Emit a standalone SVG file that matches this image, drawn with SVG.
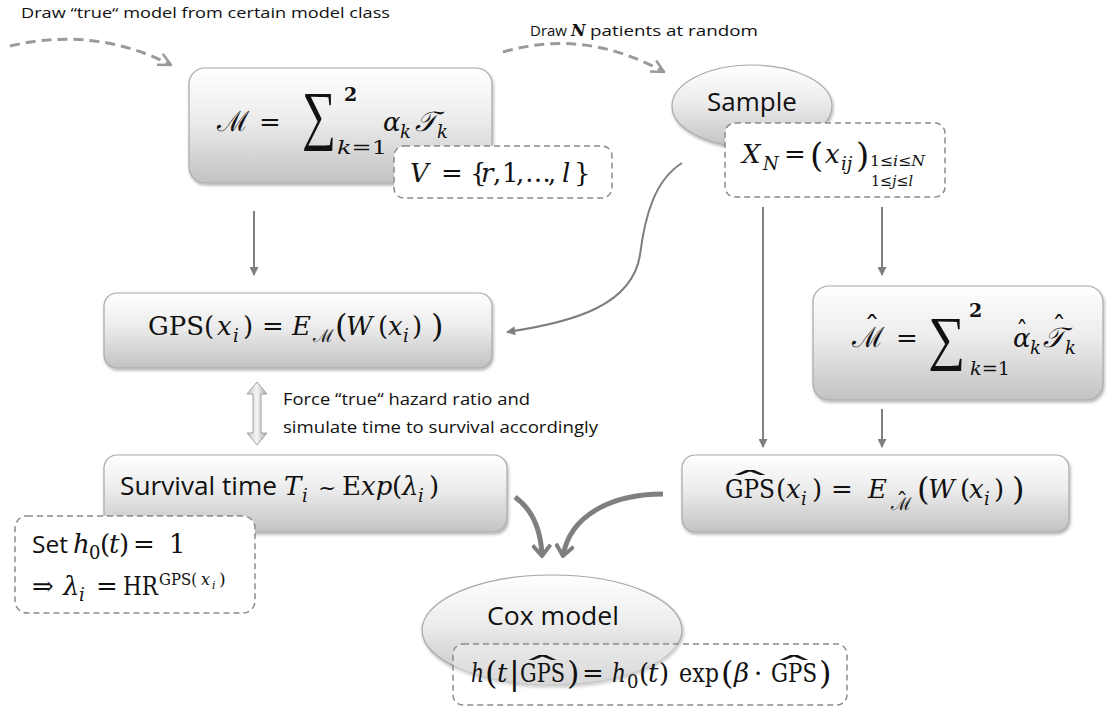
<svg xmlns="http://www.w3.org/2000/svg" width="1107" height="711" viewBox="0 0 1107 711">
<style>
.sans{font-family:"Open Sans","Liberation Sans",sans-serif;fill:#111}
.m{font-family:"DejaVu Serif","Liberation Serif",serif;fill:#111;font-size:26px}
.sig{font-family:"Liberation Serif","DejaVu Serif",serif;fill:#111}
.i{font-style:italic}
.s{font-size:18px}
.node{fill:url(#g);stroke:#a9a9a9;stroke-width:1.2;filter:url(#sh)}
.dash{fill:#fff;stroke:#8a8a8a;stroke-width:1.5;stroke-dasharray:6 4}
.conn{fill:none;stroke:#7f7f7f;stroke-width:2}
.arc{fill:none;stroke:#9a9a9a;stroke-width:3;stroke-dasharray:10 6}
.thick{fill:none;stroke:#7f7f7f;stroke-width:5}
</style>
<defs>
<linearGradient id="g" x1="0" y1="0" x2="0" y2="1">
<stop offset="0" stop-color="#ffffff"/>
<stop offset="0.45" stop-color="#ececec"/>
<stop offset="1" stop-color="#c2c2c2"/>
</linearGradient>
<linearGradient id="dg" x1="0" y1="0" x2="1" y2="0">
<stop offset="0" stop-color="#c8c8c8"/>
<stop offset="0.5" stop-color="#f4f4f4"/>
<stop offset="1" stop-color="#a8a8a8"/>
</linearGradient>
<filter id="sh" x="-5%" y="-5%" width="110%" height="120%">
<feDropShadow dx="1" dy="2" stdDeviation="1.5" flood-color="#000" flood-opacity="0.3"/>
</filter>
<marker id="tri" viewBox="0 0 10 10" refX="9" refY="5" markerWidth="10" markerHeight="9" markerUnits="userSpaceOnUse" orient="auto">
<path d="M0,0 L10,5 L0,10 z" fill="#7f7f7f"/>
</marker>
<marker id="open" viewBox="0 0 12 12" refX="11" refY="6" markerWidth="15" markerHeight="15" markerUnits="userSpaceOnUse" orient="auto">
<path d="M1,1 L11,6 L1,11" fill="none" stroke="#9a9a9a" stroke-width="2"/>
</marker>
<marker id="chev" viewBox="0 0 14 20" refX="12" refY="10" markerWidth="14" markerHeight="20" markerUnits="userSpaceOnUse" orient="auto">
<path d="M1,1 L12,10 L1,19" fill="none" stroke="#7f7f7f" stroke-width="4"/>
</marker>
</defs>

<rect width="1107" height="711" fill="#fff"/>

<!-- free labels -->
<text class="sans" x="21" y="18" font-size="15" textLength="369" lengthAdjust="spacingAndGlyphs">Draw “true“ model from certain model class</text>
<text class="sans" x="530" y="36" font-size="15" textLength="37" lengthAdjust="spacingAndGlyphs">Draw</text>
<text x="571" y="36" font-family="DejaVu Serif" font-style="italic" font-weight="bold" font-size="16" fill="#111">N</text>
<text class="sans" x="590" y="36" font-size="15" textLength="168" lengthAdjust="spacingAndGlyphs">patients at random</text>
<text class="sans" x="283" y="405" font-size="16" textLength="247" lengthAdjust="spacingAndGlyphs">Force “true“ hazard ratio and</text>
<text class="sans" x="283" y="433" font-size="16" textLength="315" lengthAdjust="spacingAndGlyphs">simulate time to survival accordingly</text>

<g id="connectors">
<path class="arc" d="M10,46 Q95,26 171,65" marker-end="url(#open)"/>
<path class="arc" d="M503,52 Q585,28 664,72" marker-end="url(#open)"/>
<line class="conn" x1="254" y1="211" x2="254" y2="275" marker-end="url(#tri)"/>
<line class="conn" x1="763" y1="207" x2="763" y2="447" marker-end="url(#tri)"/>
<line class="conn" x1="882" y1="207" x2="882" y2="275" marker-end="url(#tri)"/>
<line class="conn" x1="882" y1="409" x2="882" y2="447" marker-end="url(#tri)"/>
<path class="conn" stroke-width="2.5" d="M682,163 C655,180 645,215 640,255 C632,305 575,322 507,332" marker-end="url(#tri)"/>
<path class="thick" d="M515,497 C533,510 541,530 542,556" marker-end="url(#chev)"/>
<path class="thick" d="M663,494 C612,494 570,515 563,556" marker-end="url(#chev)"/>
<polygon points="257,382 267,394 261,394 261,433 267,433 257,445 247,433 253,433 253,394 247,394" fill="url(#dg)" stroke="#a0a0a0" stroke-width="1"/>
</g>

<g id="node-M">
<rect class="node" x="189" y="68" width="303" height="115" rx="16"/>
<text class="m" y="131"><tspan x="217" font-size="28">ℳ</tspan><tspan x="259">=</tspan></text>
<text class="sig" x="302" y="137" font-size="66" textLength="34" lengthAdjust="spacingAndGlyphs">∑</text>
<text class="m" x="344" y="101" style="font-size:19px" font-weight="bold">2</text>
<text class="m s" x="337" y="154" textLength="50" lengthAdjust="spacingAndGlyphs"><tspan class="i">k</tspan>=1</text>
<text class="m i" y="131"><tspan x="383">α</tspan><tspan class="s" x="400" y="138">k</tspan><tspan x="415" y="131" font-size="28">𝒯</tspan><tspan class="s" x="437" y="138">k</tspan></text>
</g>

<g id="node-V">
<rect class="dash" x="394" y="146" width="218" height="52" rx="10"/>
<text class="m" y="182"><tspan class="i" x="410">V</tspan><tspan x="441">=</tspan><tspan x="470">{</tspan><tspan class="i" x="481">r</tspan><tspan x="493">,</tspan><tspan x="502">1</tspan><tspan x="516">,</tspan><tspan x="525">…</tspan><tspan x="548">,</tspan><tspan class="i" x="562">l</tspan><tspan x="574">}</tspan></text>
</g>

<g id="node-sample">
<ellipse class="node" cx="752" cy="106" rx="80" ry="41"/>
<text class="sans" x="752" y="111" font-size="26" text-anchor="middle">Sample</text>
</g>

<g id="node-XN">
<rect class="dash" x="725" y="123" width="220" height="74" rx="10"/>
<text class="m" y="163"><tspan class="i" x="742">X</tspan><tspan class="i s" x="763" y="170">N</tspan><tspan x="784" y="163">=</tspan><tspan x="810" y="167" font-size="34">(</tspan><tspan class="i" x="825" y="163">x</tspan><tspan class="i s" x="841" y="170">ij</tspan><tspan x="856" y="167" font-size="34">)</tspan></text>
<text class="m" x="870" y="166" style="font-size:15px" textLength="55" lengthAdjust="spacingAndGlyphs">1≤<tspan class="i">i</tspan>≤<tspan class="i">N</tspan></text>
<text class="m" x="871" y="186" style="font-size:15px" textLength="42" lengthAdjust="spacingAndGlyphs">1≤<tspan class="i">j</tspan>≤<tspan class="i">l</tspan></text>
</g>

<g id="node-GPS">
<rect class="node" x="104" y="293" width="388" height="75" rx="13"/>
<text class="m" y="335"><tspan x="148">GPS(</tspan><tspan class="i" x="217">x</tspan><tspan class="i s" x="233" y="342">i</tspan><tspan x="243" y="335">)</tspan><tspan x="262">=</tspan><tspan class="i" x="292">E</tspan><tspan class="s" x="313" y="342">ℳ</tspan><tspan x="335" y="337" font-size="32">(</tspan><tspan class="i" x="346" y="335">W</tspan><tspan x="378">(</tspan><tspan class="i" x="388">x</tspan><tspan class="i s" x="403" y="342">i</tspan><tspan x="412" y="335">)</tspan><tspan x="431" y="337" font-size="32">)</tspan></text>
</g>

<g id="node-Mhat">
<rect class="node" x="813" y="286" width="290" height="114" rx="16"/>
<text class="m" y="347"><tspan x="852" font-size="28">ℳ</tspan><tspan x="896">=</tspan></text>
<text class="m" x="864" y="335" textLength="16" lengthAdjust="spacingAndGlyphs">ˆ</text>
<text class="sig" x="928" y="358" font-size="60" textLength="37" lengthAdjust="spacingAndGlyphs">∑</text>
<text class="m" x="969" y="317" style="font-size:19px" font-weight="bold">2</text>
<text class="m s" x="970" y="375" textLength="40" lengthAdjust="spacingAndGlyphs"><tspan class="i">k</tspan>=1</text>
<text class="m i" y="347"><tspan x="1013">α</tspan><tspan class="s" x="1030" y="354">k</tspan><tspan x="1043" y="347" font-size="28">𝒯</tspan><tspan class="s" x="1065" y="354">k</tspan></text>
<text class="m" x="1016" y="340" textLength="12" lengthAdjust="spacingAndGlyphs">ˆ</text>
<text class="m" x="1052" y="335" textLength="14" lengthAdjust="spacingAndGlyphs">ˆ</text>
</g>

<g id="node-survival">
<rect class="node" x="104" y="455" width="403" height="77" rx="13"/>
<text class="sans" x="120" y="495" font-size="25" textLength="157" lengthAdjust="spacingAndGlyphs">Survival time</text>
<text class="m" y="495"><tspan class="i" x="284">T</tspan><tspan class="i s" x="302" y="502">i</tspan><tspan x="318" y="495" font-size="22">~</tspan><tspan x="342" y="495">E</tspan><tspan class="i" x="361">xp</tspan><tspan x="392">(</tspan><tspan class="i" x="402">λ</tspan><tspan class="i s" x="418" y="502">i</tspan><tspan x="429" y="495">)</tspan></text>
</g>

<g id="node-set">
<rect class="dash" x="15" y="516" width="240" height="97" rx="12"/>
<text class="sans" x="32" y="553" font-size="24" textLength="36" lengthAdjust="spacingAndGlyphs">Set</text>
<text class="m" y="553"><tspan class="i" x="73">h</tspan><tspan class="s" x="89" y="559">0</tspan><tspan x="100" y="553">(</tspan><tspan class="i" x="109">t</tspan><tspan x="119">)</tspan><tspan x="133">=</tspan><tspan x="169">1</tspan></text>
<text class="m" y="595"><tspan x="32">⇒</tspan><tspan class="i" x="63">λ</tspan><tspan class="i s" x="79" y="601">i</tspan><tspan x="96" y="595">=</tspan></text>
<text class="m" x="123" y="595" textLength="35" lengthAdjust="spacingAndGlyphs">HR</text>
<text class="m" x="159" y="585" style="font-size:17px" textLength="38" lengthAdjust="spacingAndGlyphs">GPS(</text>
<text class="m i" x="201" y="585" style="font-size:16px">x</text>
<text class="m i" x="212" y="589" style="font-size:11px">i</text>
<text class="m" x="219" y="585" style="font-size:17px">)</text>
</g>

<g id="node-GPShat">
<rect class="node" x="682" y="455" width="387" height="77" rx="13"/>
<text class="m" y="498"><tspan x="725" textLength="50" lengthAdjust="spacingAndGlyphs">GPS</tspan><tspan x="776">(</tspan><tspan class="i" x="786">x</tspan><tspan class="i s" x="801" y="505">i</tspan><tspan x="812" y="498">)</tspan><tspan x="831">=</tspan><tspan class="i" x="868">E</tspan><tspan class="s" x="891" y="510">ℳ</tspan><tspan x="917" y="500" font-size="32">(</tspan><tspan class="i" x="928" y="498">W</tspan><tspan x="960">(</tspan><tspan class="i" x="969">x</tspan><tspan class="i s" x="984" y="505">i</tspan><tspan x="994" y="498">)</tspan><tspan x="1012" y="500" font-size="32">)</tspan></text>
<text class="m" x="725" y="491" textLength="50" lengthAdjust="spacingAndGlyphs">ˆ</text>
<text class="m" x="896" y="509" style="font-size:22px" textLength="12" lengthAdjust="spacingAndGlyphs">ˆ</text>
</g>

<g id="node-cox">
<ellipse class="node" cx="552" cy="630" rx="130" ry="55"/>
<text class="sans" x="553" y="625" font-size="25" text-anchor="middle" textLength="132" lengthAdjust="spacingAndGlyphs">Cox model</text>
<rect x="453" y="644" width="394" height="61" rx="10" fill="#fff" fill-opacity="0.35" stroke="#8a8a8a" stroke-width="1.5" stroke-dasharray="6 4"/>
<text class="m" y="682"><tspan class="i" x="471" textLength="13" lengthAdjust="spacingAndGlyphs">h</tspan><tspan x="485" y="684" font-size="32">(</tspan><tspan class="i" x="497" y="682">t</tspan><tspan x="509" y="684" font-size="32">|</tspan><tspan x="520" y="682" textLength="45" lengthAdjust="spacingAndGlyphs">GPS</tspan><tspan x="567" y="684" font-size="32">)</tspan><tspan x="582" y="682">=</tspan><tspan class="i" x="612" textLength="14" lengthAdjust="spacingAndGlyphs">h</tspan><tspan class="s" x="627" y="688">0</tspan><tspan x="639" y="682">(</tspan><tspan class="i" x="648">t</tspan><tspan x="659">)</tspan><tspan x="679" textLength="40" lengthAdjust="spacingAndGlyphs">exp</tspan><tspan x="721" y="684" font-size="32">(</tspan><tspan class="i" x="734" y="682">β</tspan><tspan x="754">·</tspan><tspan x="771" textLength="46" lengthAdjust="spacingAndGlyphs">GPS</tspan><tspan x="819" y="684" font-size="32">)</tspan></text>
<text class="m" x="520" y="676" textLength="45" lengthAdjust="spacingAndGlyphs">ˆ</text>
<text class="m" x="771" y="676" textLength="46" lengthAdjust="spacingAndGlyphs">ˆ</text>
</g>
</svg>
